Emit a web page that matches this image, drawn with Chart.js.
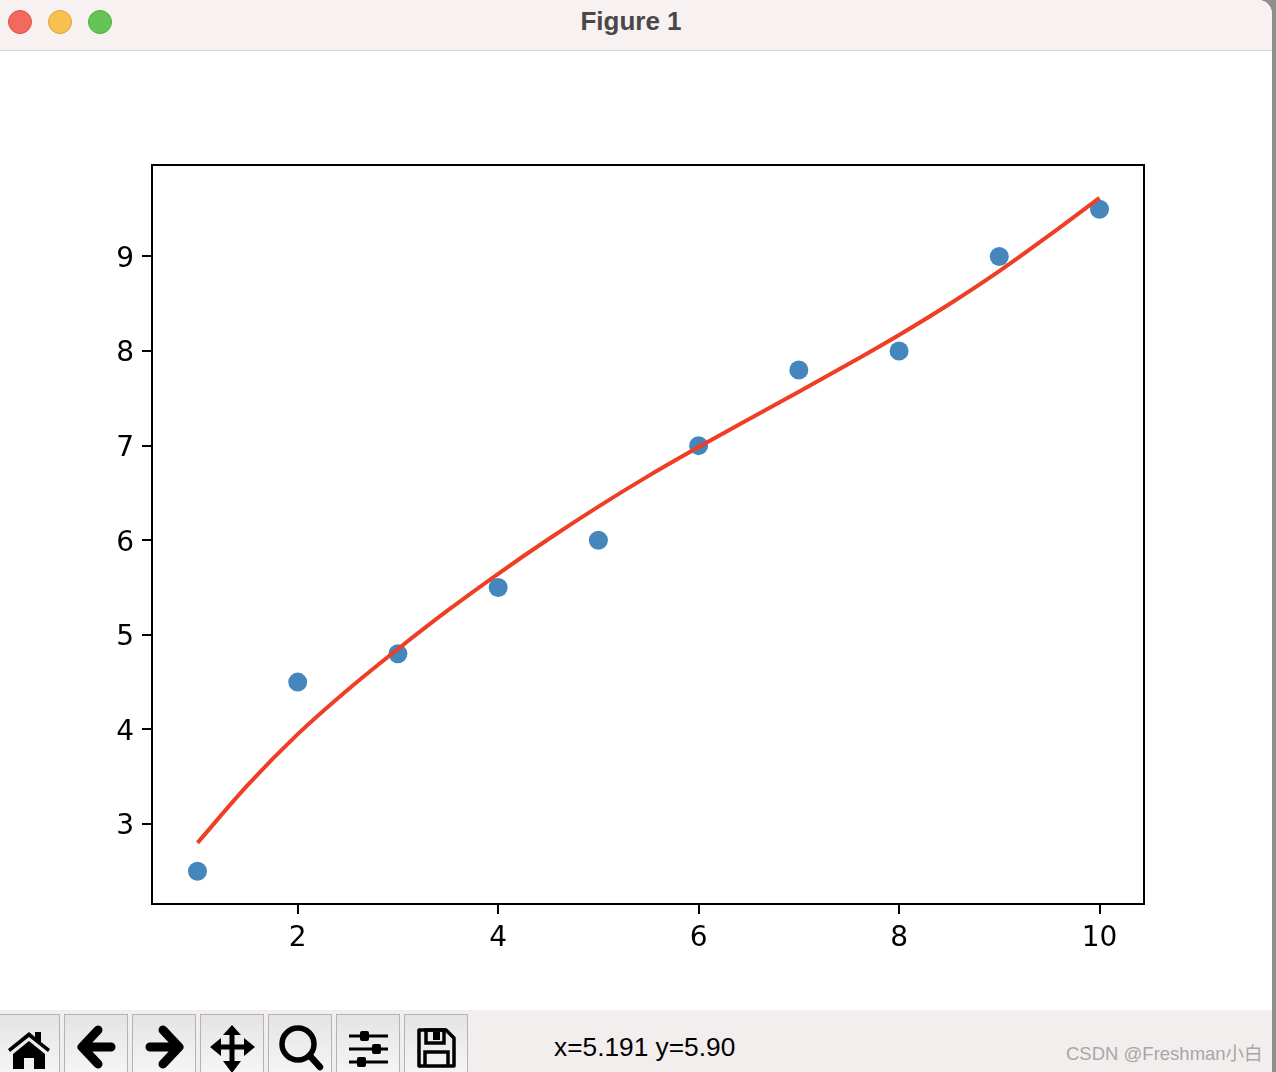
<!DOCTYPE html>
<html>
<head>
<meta charset="utf-8">
<title>Figure 1</title>
<script src="https://cdn.jsdelivr.net/npm/chart.js@4/dist/chart.umd.min.js"></script>
<style>
  html, body { margin: 0; padding: 0; background: #fff; }
  #page { position: relative; width: 1276px; height: 1072px; overflow: hidden; background: #8f8f8f; }
  #window { position: absolute; left: 0; top: 0; width: 1272px; height: 1072px; background: #fff; border-top-right-radius: 14px; overflow: hidden; }
  #titlebar { position: absolute; left: 0; top: 0; width: 100%; height: 50px; background: #f7f1f1; border-bottom: 1px solid #d8d6d6; }
  #titlebar .title { position: absolute; left: 0; width: 1262px; top: 6px; text-align: center; font: bold 26px "Liberation Sans", sans-serif; color: #4a4747; }
  .light { position: absolute; top: 10px; width: 22px; height: 22px; border-radius: 50%; border: 1px solid; }
  #plot { position: absolute; left: 0; top: 51px; width: 1272px; height: 959px; }
  #toolbar { position: absolute; left: 0; top: 1010px; width: 100%; height: 62px; background: #f2eeee; }
  .btn { position: absolute; top: 4px; width: 64px; height: 62px; box-sizing: border-box; border: 1px solid #b4b2b2; background: linear-gradient(#e4e4e4, #f6f6f6); }
  .btn svg { position: absolute; left: 0; top: 0; }
  #status { position: absolute; left: 554px; top: 22px; font: 26.3px "Liberation Sans", sans-serif; color: #000; }
  #mark { position: absolute; left: 1066px; top: 29px; font: 18.5px "Liberation Sans", "Noto Sans CJK SC", sans-serif; color: #a8a6a6; white-space: nowrap; }
</style>
</head>
<body>
<div id="page">
  <div id="window">
    <div id="titlebar">
      <div class="light" style="left:8px;background:#f1695f;border-color:#dc5248"></div>
      <div class="light" style="left:48px;background:#f8c04f;border-color:#dfa13c"></div>
      <div class="light" style="left:88px;background:#62c554;border-color:#4fae43"></div>
      <div class="title">Figure 1</div>
    </div>
    <div id="plot"><canvas id="chart"></canvas></div>
    <div id="toolbar">
      <div class="btn" style="left:-4px"><svg width="64" height="60" viewBox="0 0 64 60"><path d="M10 34 L31 17 L37 22 V17 H43 V27 L52 34 L50 37 L31 22 L12 37Z M15 39 L31 26 L47 39 V54 H36 V43 H26 V54 H15Z" fill="#000" transform="translate(1,0)"/></svg></div>
      <div class="btn" style="left:64px"><svg width="64" height="60" viewBox="0 0 64 60"><path d="M33 15 L17 32 L33 49 M19 32 H46" fill="none" stroke="#000" stroke-width="9" stroke-linecap="round" stroke-linejoin="round"/></svg></div>
      <div class="btn" style="left:132px"><svg width="64" height="60" viewBox="0 0 64 60"><path d="M30 15 L46 32 L30 49 M44 32 H17" fill="none" stroke="#000" stroke-width="9" stroke-linecap="round" stroke-linejoin="round"/></svg></div>
      <div class="btn" style="left:200px"><svg width="64" height="60" viewBox="0 0 64 60"><path d="M31 17 V47 M16 32 H46" stroke="#000" stroke-width="5" fill="none"/><path d="M31 10 L40 20 H22Z M31 58 L40 46 H22Z M9 32 L20 23 V41Z M54 32 L43 23 V41Z" fill="#000"/></svg></div>
      <div class="btn" style="left:268px"><svg width="64" height="60" viewBox="0 0 64 60"><circle cx="29" cy="29" r="16" fill="none" stroke="#000" stroke-width="5.5"/><path d="M41 41 L51 52" stroke="#000" stroke-width="6.5" stroke-linecap="round"/></svg></div>
      <div class="btn" style="left:336px"><svg width="64" height="60" viewBox="0 0 64 60"><path d="M12 21 H51 M12 34 H51 M12 47 H51" stroke="#000" stroke-width="3"/><rect x="23" y="16" width="9" height="10" rx="2" fill="#000"/><rect x="35" y="29" width="9" height="10" rx="2" fill="#000"/><rect x="20" y="42" width="9" height="10" rx="2" fill="#000"/></svg></div>
      <div class="btn" style="left:404px"><svg width="64" height="60" viewBox="0 0 64 60"><path d="M14 15 H41 L49 23 V51 H14Z" fill="none" stroke="#000" stroke-width="3.5" stroke-linejoin="round"/><path d="M21 15 H39 V28 H21Z" fill="none" stroke="#000" stroke-width="3.5"/><path d="M28 17 H35 V25 H28Z" fill="#000"/><path d="M20 51 V37 H43 V51" fill="none" stroke="#000" stroke-width="3.5"/></svg></div>
      <div id="status">x=5.191 y=5.90</div>
      <div id="mark">CSDN @Freshman小白</div>
    </div>
  </div>
</div>
<script>
// scatter samples
const xValues = [1, 2, 3, 4, 5, 6, 7, 8, 9, 10];
const yValues = [2.5, 4.5, 4.8, 5.5, 6, 7, 7.8, 8, 9, 9.5];

// fitted curve
const curveX = [1, 1.5, 2, 2.5, 3, 3.5, 4, 4.5, 5, 5.5, 6, 6.5, 7, 7.5, 8, 8.5, 9, 9.5, 10];
const curveY = [2.8, 3.41, 3.95, 4.42, 4.85, 5.26, 5.645, 6.01, 6.355, 6.68, 6.985, 7.28, 7.57, 7.865, 8.17, 8.495, 8.845, 9.225, 9.62];

const xTickValues = [2, 4, 6, 8, 10];
const yTickValues = [3, 4, 5, 6, 7, 8, 9];

const toPoints = (xs, ys) => xs.map((x, i) => ({ x: x, y: ys[i] }));

// top and right spines
const boxPlugin = {
  id: 'box',
  afterDraw(chart) {
    const { ctx, chartArea: a } = chart;
    ctx.save();
    ctx.strokeStyle = '#000';
    ctx.lineWidth = 2;
    ctx.strokeRect(a.left, a.top, a.right - a.left, a.bottom - a.top);
    ctx.restore();
  }
};

const tickFont = { family: '"DejaVu Sans"', size: 28 };

const ctx = document.getElementById('chart').getContext('2d');
new Chart(ctx, {
  type: 'scatter',
  data: {
    datasets: [{
      data: toPoints(curveX, curveY),
      showLine: true,
      cubicInterpolationMode: 'monotone',
      borderColor: '#ee3e23',
      borderWidth: 4,
      pointRadius: 0,
      fill: false
    }, {
      data: toPoints(xValues, yValues),
      backgroundColor: '#4587bd',
      borderWidth: 0,
      pointRadius: 9.5
    }]
  },
  plugins: [boxPlugin],
  options: {
    responsive: true,
    maintainAspectRatio: false,
    animation: false,
    layout: { padding: { left: 0, top: 114, right: 128, bottom: 0 } },
    plugins: { legend: { display: false }, tooltip: { enabled: false } },
    scales: {
      x: {
        type: 'linear',
        min: 0.546,
        max: 10.444,
        afterBuildTicks: s => { s.ticks = xTickValues.map(v => ({ value: v })); },
        afterFit: s => { s.height = 106; },
        grid: { drawOnChartArea: false, color: '#000', lineWidth: 2, tickLength: 10 },
        border: { color: '#000', width: 2 },
        ticks: { color: '#000', font: tickFont, padding: 8, maxRotation: 0, autoSkip: false, callback: v => String(v) }
      },
      y: {
        min: 2.154,
        max: 9.967,
        afterBuildTicks: s => { s.ticks = yTickValues.map(v => ({ value: v })); },
        afterFit: s => { s.width = 152; },
        grid: { drawOnChartArea: false, color: '#000', lineWidth: 2, tickLength: 10 },
        border: { color: '#000', width: 2 },
        ticks: { color: '#000', font: tickFont, padding: 8, labelOffset: 3, autoSkip: false, callback: v => String(v) }
      }
    }
  }
});
</script>
</body>
</html>
